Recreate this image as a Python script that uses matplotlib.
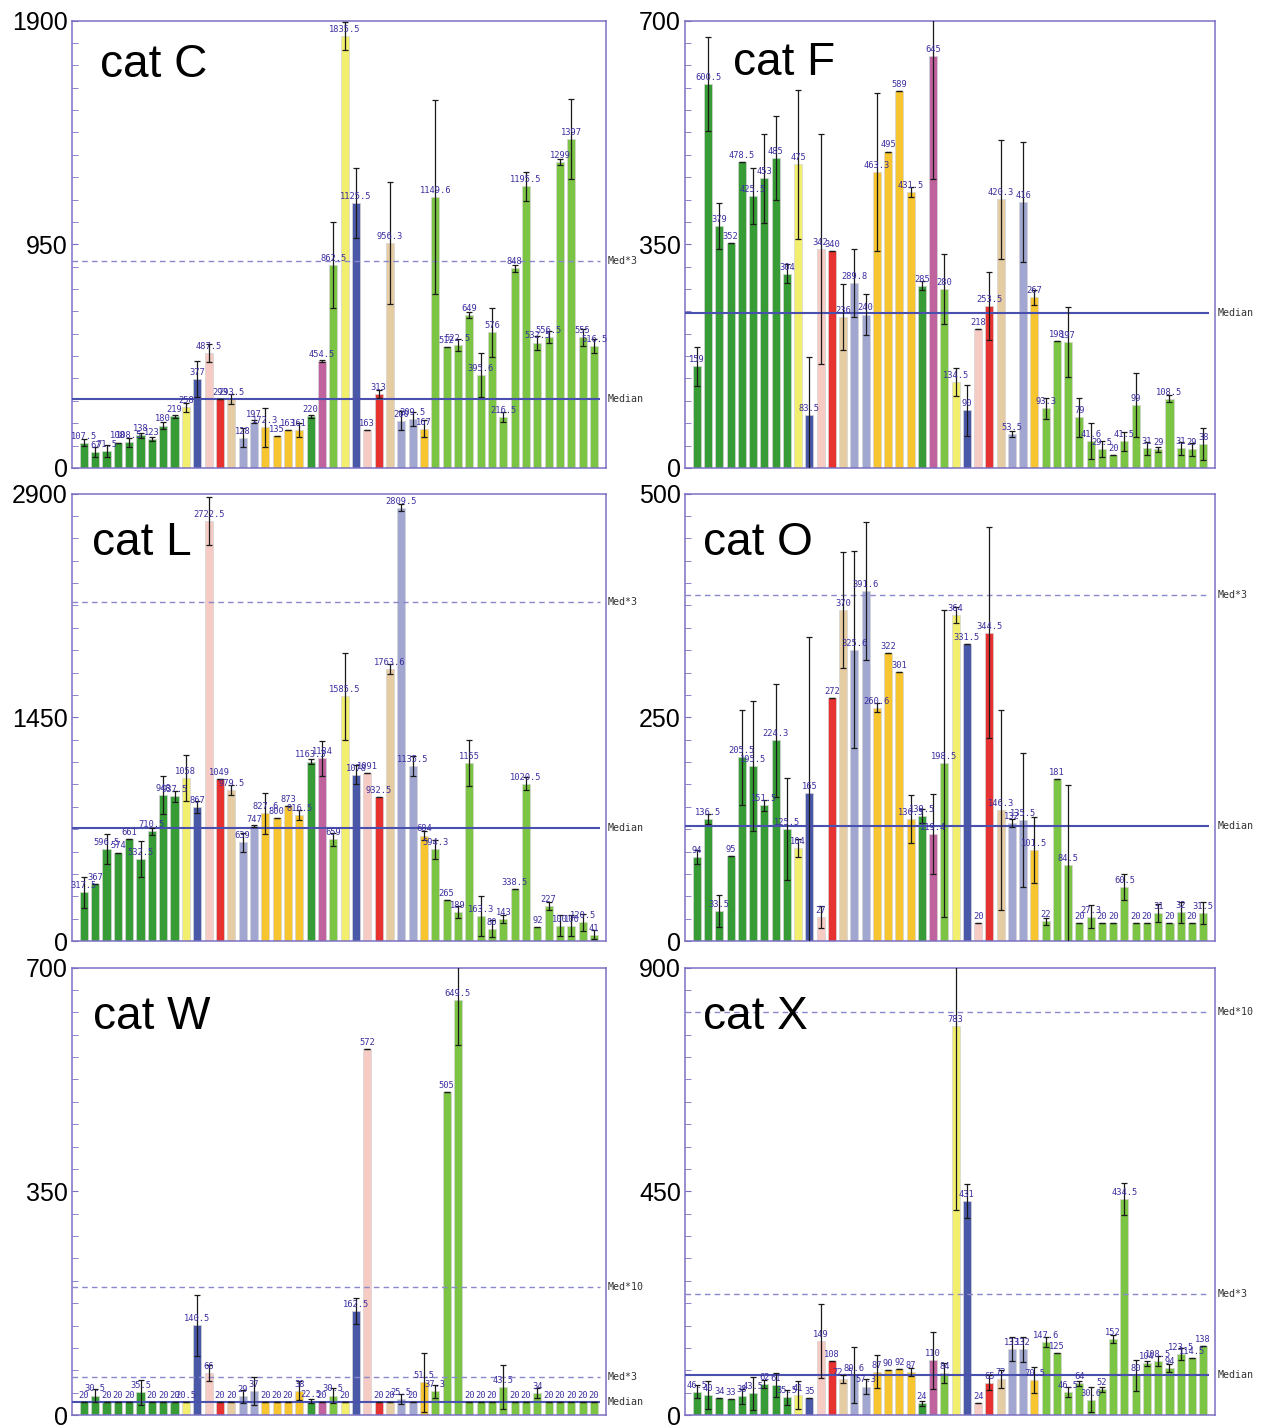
import matplotlib
matplotlib.use("Agg")
import matplotlib.pyplot as plt
from matplotlib.ticker import MultipleLocator

# bar colour sequence, same for all six panels
DG, LG, YE, BL, PK = "#389c36", "#7cc444", "#f2ee6e", "#4a58a8", "#f5cbc4"
RD, TN, LV, OR, PU = "#e63331", "#e6cca2", "#a2a7d2", "#f6c52f", "#c0629e"
bar_colors = ([DG] * 9 + [YE, BL, PK, RD, TN, LV, LV, OR, OR, OR, OR, DG, PU, LG,
                          YE, BL, PK, RD, TN, LV, LV, OR] + [LG] * 15)

# ---- cat C ----
c_vals = [107.5, 67, 71.5, 108, 108.5, 138, 123, 180, 219, 258, 377, 487.5, 293, 293.5,
          128, 197, 172.3, 135, 163, 161, 220, 454.5, 862.5, 1835.5, 1125.5, 163, 313,
          956.3, 200, 209.5, 167, 1149.6, 512, 522.5, 649, 395.6, 576, 216.5, 848, 1195.5,
          532.5, 556.5, 1299, 1397, 555, 516.5]
c_errs = [16, 20, 25, 0, 20, 12, 10, 15, 8, 20, 77, 38, 0, 22, 40, 6, 83, 0, 0, 30, 6, 5,
          182, 60, 148, 0, 18, 259, 40, 30, 35, 411, 0, 25, 12, 93, 104, 20, 15, 60, 30, 25,
          12, 170, 35, 30]
c_median = 293

# ---- cat F ----
f_vals = [159, 600.5, 379, 352, 478.5, 425.5, 453, 485, 304, 475, 83.5, 342, 340, 236,
          289.8, 240, 463.3, 495, 589, 431.5, 285, 645, 280, 134.5, 90, 218, 253.5, 420.3,
          53.5, 416, 267, 93.3, 198, 197, 79, 41.6, 29.5, 20, 41.5, 99, 31, 29, 108.5, 31,
          29, 38]
f_errs = [30, 73, 36, 0, 0, 44, 70, 65, 15, 117, 90, 180, 0, 52, 53, 32, 124, 0, 0, 8, 7,
          193, 54, 22, 40, 0, 53, 93, 5, 94, 12, 16, 0, 55, 31, 28, 12, 0, 15, 50, 10, 4, 5,
          10, 10, 25]
f_median = 243

# ---- cat L ----
l_vals = [317.5, 367, 596.5, 574, 661, 532.5, 710.5, 948, 937.5, 1058, 867, 2722.5, 1049,
          979.5, 639, 747, 827.6, 800, 873, 816.5, 1163.3, 1184, 659, 1585.5, 1078, 1091,
          932.5, 1763.6, 2809.5, 1135.5, 684, 594.3, 265, 189, 1155, 163.3, 80, 143, 338.5,
          1020.5, 92, 227, 100, 100, 120.5, 41]
l_errs = [100, 0, 100, 0, 0, 115, 25, 125, 35, 150, 40, 155, 0, 35, 60, 8, 135, 0, 0, 30,
          15, 115, 40, 280, 60, 0, 0, 30, 25, 65, 30, 60, 0, 40, 150, 130, 55, 25, 0, 40, 0,
          25, 70, 70, 55, 30]
l_median = 732

# ---- cat O ----
o_vals = [94, 136.5, 33.5, 95, 205.5, 195.5, 151.5, 224.3, 125.5, 104, 165, 27, 272, 370,
          325.6, 391.6, 260.6, 322, 301, 136.5, 139.5, 119.4, 198.5, 364, 331.5, 20, 344.5,
          146.3, 132, 135.5, 101.5, 22, 181, 84.5, 20, 27.3, 20, 20, 60.5, 20, 20, 31, 20,
          32, 20, 31.5]
o_errs = [8, 6, 18, 0, 53, 73, 6, 63, 57, 10, 175, 12, 0, 65, 110, 77, 5, 0, 0, 27, 8, 45,
          172, 9, 0, 0, 118, 112, 4, 75, 37, 4, 0, 90, 0, 13, 0, 0, 15, 0, 0, 10, 0, 12, 0,
          12]
o_median = 129

# ---- cat W ----
w_vals = [20, 30.5, 20, 20, 20, 35.5, 20, 20, 20, 20.5, 140.5, 66, 20, 20, 29, 37, 20, 20,
          20, 38, 22.5, 20, 30.5, 20, 162.5, 572, 20, 20, 25.5, 20, 51.5, 37.3, 505, 649.5,
          20, 20, 20, 43.5, 20, 20, 34, 20, 20, 20, 20, 20]
w_errs = [0, 10, 0, 0, 0, 20, 0, 0, 0, 0, 48, 12, 0, 0, 10, 22, 0, 0, 0, 15, 3, 0, 12, 0,
          20, 0, 0, 0, 8, 0, 46, 10, 0, 70, 0, 0, 0, 34, 0, 0, 8, 0, 0, 0, 0, 0]
w_median = 20

# ---- cat X ----
x_vals = [46.5, 40, 34, 33, 38, 43.5, 62, 61, 35.5, 41, 35, 149, 108, 72.5, 80.6, 57.3, 87,
          90, 92, 87, 24, 110, 84, 783, 431, 24, 65, 72, 133, 132, 70.5, 147.6, 125, 46.5,
          64, 30.6, 52, 152, 434.5, 80, 104, 108.5, 94, 123.5, 114.5, 138]
x_errs = [13, 28, 0, 0, 15, 33, 8, 24, 15, 28, 0, 75, 0, 8, 57, 15, 33, 0, 0, 8, 5, 57, 20,
          370, 34, 0, 15, 18, 24, 25, 26, 10, 0, 10, 5, 25, 5, 8, 32, 31, 5, 10, 8, 12, 0, 0]
x_median = 81

panels = [
    ("cat C", c_vals, c_errs, c_median, 1900, (0.0569, 0.6716), (0.052, 0.90)),
    ("cat F", f_vals, f_errs, f_median, 700, (0.5415, 0.6716), (0.09, 0.905)),
    ("cat L", l_vals, l_errs, l_median, 2900, (0.0569, 0.3396), (0.037, 0.89)),
    ("cat O", o_vals, o_errs, o_median, 500, (0.5415, 0.3396), (0.034, 0.89)),
    ("cat W", w_vals, w_errs, w_median, 700, (0.0569, 0.0070), (0.04, 0.89)),
    ("cat X", x_vals, x_errs, x_median, 900, (0.5415, 0.0070), (0.034, 0.89)),
]

SPINE = "#7a70c2"
LABEL_C = "#3b2fa0"


def fmt(v):
    return str(int(v)) if v == int(v) else f"{v:g}"


fig = plt.figure(figsize=(12.65, 14.25), dpi=100)

for title, vals, errs, med, top, (x0, y0), tpos in panels:
    w = 0.4221 if x0 < 0.5 else 0.419
    ax = fig.add_axes([x0, y0, w, 0.3140])
    xs = list(range(len(vals)))
    ax.bar(xs, vals, width=0.72, color=bar_colors, edgecolor="#d4d4d4", linewidth=0.5,
           zorder=2)
    ax.errorbar(xs, vals, yerr=errs, fmt="none", ecolor="#1a1a1a", elinewidth=0.9,
                capsize=2.5, capthick=0.9, zorder=4)
    for xi, v in zip(xs, vals):
        ax.annotate(fmt(v), (xi, v), xytext=(0, 1.5), textcoords="offset points",
                    ha="center", va="bottom", fontsize=6.3, color=LABEL_C,
                    family="DejaVu Sans Mono", zorder=5)

    # reference lines (only those inside the range)
    xend = len(vals) - 0.5
    ax.hlines(med, -1.05, xend, color="#4a50ae", linewidth=1.5, zorder=3)
    ax.text(1.004, med, "Median", transform=ax.get_yaxis_transform(), fontsize=7.2,
            family="DejaVu Sans Mono", color="#333333", va="center", ha="left")
    for mult, lab in [(3, "Med*3"), (10, "Med*10")]:
        if med * mult < top:
            ax.hlines(med * mult, -1.05, xend, color="#8a88cc", linewidth=1.0,
                      linestyles=(0, (4, 3)), zorder=3)
            ax.text(1.004, med * mult, lab, transform=ax.get_yaxis_transform(),
                    fontsize=7.2, family="DejaVu Sans Mono", color="#333333",
                    va="center", ha="left")

    ax.set_xlim(-1.05, len(vals) + 0.05)
    ax.set_ylim(0, top)
    ax.set_xticks([])
    ax.set_yticks([0, top / 2, top])
    ax.set_yticklabels([fmt(0), fmt(top / 2), fmt(top)], family="Liberation Sans",
                       fontsize=18)
    ax.yaxis.set_minor_locator(MultipleLocator(top / 20))
    ax.tick_params(axis="y", which="both", direction="in", length=4, color=SPINE,
                   pad=3)
    for sp in ax.spines.values():
        sp.set_color(SPINE)
        sp.set_linewidth(1.1)

    ax.text(tpos[0], tpos[1], title, transform=ax.transAxes, fontsize=33,
            family="Liberation Sans", va="center", ha="left", color="black", zorder=6)

fig.savefig("out.png", dpi=100)
